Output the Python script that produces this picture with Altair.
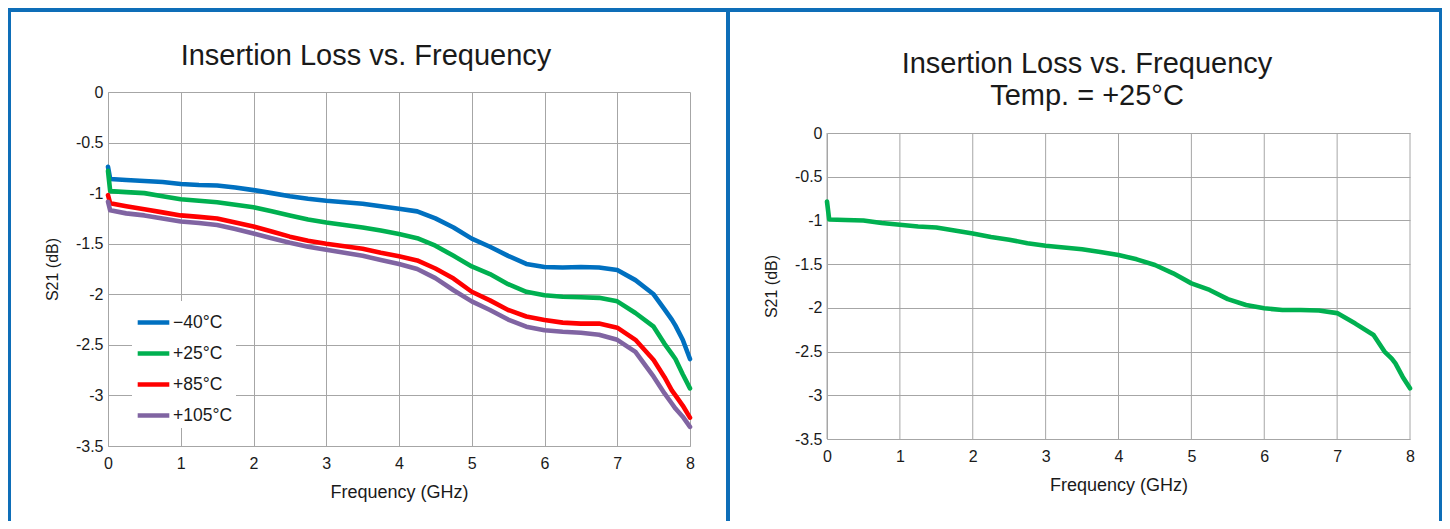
import altair as alt
import pandas as pd

# ---------------- data ----------------
freq = [0, 0.03, 0.25, 0.5, 0.75, 1, 1.25, 1.5, 1.75, 2, 2.25, 2.5, 2.75, 3,
        3.25, 3.5, 3.75, 4, 4.25, 4.5, 4.75, 5, 5.25, 5.5, 5.75, 6, 6.25, 6.5,
        6.75, 7, 7.25, 7.5, 7.65, 7.75, 7.8, 7.9, 8]

s21_m40 = [-0.74, -0.86, -0.87, -0.88, -0.89, -0.91, -0.92, -0.925, -0.945, -0.97,
           -1.0, -1.03, -1.055, -1.075, -1.09, -1.105, -1.13, -1.155, -1.18, -1.25,
           -1.34, -1.45, -1.53, -1.62, -1.70, -1.73, -1.735, -1.73, -1.735, -1.76,
           -1.86, -2.0, -2.15, -2.25, -2.31, -2.45, -2.64]
s21_p25 = [-0.78, -0.98, -0.99, -1.0, -1.03, -1.06, -1.075, -1.09, -1.115, -1.14,
           -1.18, -1.22, -1.26, -1.29, -1.315, -1.34, -1.37, -1.405, -1.445, -1.52,
           -1.62, -1.725, -1.80, -1.90, -1.975, -2.01, -2.025, -2.03, -2.035, -2.07,
           -2.185, -2.32, -2.49, -2.59, -2.64, -2.79, -2.93]
s21_p85 = [-1.02, -1.10, -1.13, -1.16, -1.19, -1.22, -1.235, -1.25, -1.29, -1.33,
           -1.38, -1.43, -1.47, -1.50, -1.525, -1.55, -1.59, -1.625, -1.665, -1.745,
           -1.845, -1.975, -2.06, -2.155, -2.22, -2.255, -2.28, -2.29, -2.29, -2.33,
           -2.45, -2.65, -2.82, -2.95, -3.0, -3.10, -3.22]
s21_p105 = [-1.085, -1.17, -1.20, -1.22, -1.25, -1.28, -1.295, -1.315, -1.355, -1.40,
            -1.445, -1.49, -1.53, -1.56, -1.59, -1.62, -1.66, -1.70, -1.75, -1.84,
            -1.96, -2.07, -2.155, -2.25, -2.32, -2.355, -2.37, -2.38, -2.40, -2.45,
            -2.57, -2.815, -2.98, -3.08, -3.13, -3.21, -3.31]
s21_room = [-0.785, -0.99, -0.995, -1.0, -1.03, -1.05, -1.07, -1.08, -1.115, -1.15,
            -1.19, -1.22, -1.26, -1.29, -1.31, -1.33, -1.36, -1.395, -1.445, -1.51,
            -1.605, -1.72, -1.795, -1.90, -1.967, -2.005, -2.025, -2.025, -2.03, -2.06,
            -2.18, -2.31, -2.50, -2.58, -2.635, -2.79, -2.92]

series_names = ["\u221240\u00b0C", "+25\u00b0C", "+85\u00b0C", "+105\u00b0C"]
series_colors = ["#0070C0", "#00B050", "#FF0000", "#8064A2"]
room_color = "#00B050"

x_ticks = [0, 1, 2, 3, 4, 5, 6, 7, 8]
y_ticks = [0, -0.5, -1, -1.5, -2, -2.5, -3, -3.5]

title_left = "Insertion Loss vs. Frequency"
title_right_1 = "Insertion Loss vs. Frequency"
title_right_2 = "Temp. = +25\u00b0C"
x_title = "Frequency (GHz)"
y_title = "S21 (dB)"

# ---------------- styling ----------------
FONT = "Liberation Sans, Arial, sans-serif"
GRID = "#a6a6a6"
BORDER = "#0E6EB8"
TXT = "#1a1a1a"

rows = []
for name, vals in zip(series_names, [s21_m40, s21_p25, s21_p85, s21_p105]):
    for f, v in zip(freq, vals):
        rows.append({"freq": f, "s21": v, "series": name})
df_left = pd.DataFrame(rows)
df_right = pd.DataFrame({"freq": freq, "s21": s21_room})
df_xticks = pd.DataFrame({"freq": x_ticks})
dummy = pd.DataFrame({"k": [0]})

X_SCALE = alt.Scale(domain=[0, 8], nice=False)


def x_enc(grid=True):
    return alt.X("freq:Q", scale=X_SCALE,
                 axis=alt.Axis(values=x_ticks, title=x_title, labelPadding=9,
                               labelExpr="'' + datum.value", labelFlush=False,
                               grid=grid, titleY=51, titleBaseline="alphabetic"))


def y_enc(rng):
    return alt.Y("s21:Q", scale=alt.Scale(domain=[-3.5, 0], nice=False, range=rng),
                 axis=alt.Axis(values=y_ticks, title=y_title, labelPadding=5,
                               labelExpr="'' + datum.value", labelFlush=False,
                               titleX=-51, titleBaseline="alphabetic"))


def rect(x1, x2, y1, y2):
    return alt.Chart(dummy).mark_rect(color=BORDER).encode(
        x=alt.value(x1), x2=alt.value(x2), y=alt.value(y1), y2=alt.value(y2))


def text(s, x, y):
    return alt.Chart(dummy).mark_text(
        text=s, font=FONT, fontSize=29, color=TXT, align="center",
        baseline="alphabetic").encode(x=alt.value(x), y=alt.value(y))


# ---------------- left panel ----------------
W1, H1 = 582, 354
lines_left = alt.Chart(df_left).mark_line(
    strokeWidth=4.6, strokeJoin="round", strokeCap="round").encode(
    x=x_enc(), y=y_enc([H1, 0]),
    color=alt.Color("series:N",
                    scale=alt.Scale(domain=series_names, range=series_colors),
                    sort=series_names,
                    legend=alt.Legend(orient="none", legendX=24, legendY=209,
                                      title=None, symbolType="stroke",
                                      symbolSize=1000, symbolStrokeWidth=4.6,
                                      labelFont=FONT, labelFontSize=17.5,
                                      labelColor=TXT, labelOffset=1,
                                      fillColor="white", padding=3,
                                      rowPadding=3)),
)

left = alt.layer(
    rect(-100, -97, -84, 429),   # left border
    rect(-100, 618, -84, -80),   # top border
    text(title_left, 258, -27),
    lines_left,
).properties(width=W1, height=H1)

# ---------------- right panel ----------------
# same origin as the left panel; the plot area starts 41 px lower
W2, H2, TOP2 = 583, 347, 41
vgrid_right = alt.Chart(df_xticks).mark_rule(color=GRID, strokeWidth=1).encode(
    x=x_enc(grid=False), y=alt.value(TOP2), y2=alt.value(H2))
lines_right = alt.Chart(df_right).mark_line(
    strokeWidth=4.6, strokeJoin="round", strokeCap="round", color=room_color
).encode(x=x_enc(grid=False), y=y_enc([H2, TOP2]))

right = alt.layer(
    rect(-101, -97, -84, 429),   # middle border
    rect(-101, 615, -84, -80),   # top border
    rect(612, 615, -84, 429),    # right border
    text(title_right_1, 260, -19),
    text(title_right_2, 260, 13),
    vgrid_right,
    lines_right,
).properties(width=W2, height=H2)

chart = alt.concat(left, right, columns=2, spacing=0).properties(
    padding=0, background="white"
).configure_view(strokeOpacity=0).configure_axis(
    labelFont=FONT, labelFontSize=16, labelColor=TXT, ticks=False,
    domainColor=GRID, gridColor=GRID, gridWidth=1, domainWidth=1,
    titleFont=FONT, titleFontSize=18, titleFontWeight="normal", titleColor=TXT,
).configure_axisY(titleFontSize=16)

chart.save("out.html", embed_options={"renderer": "svg", "actions": False})
